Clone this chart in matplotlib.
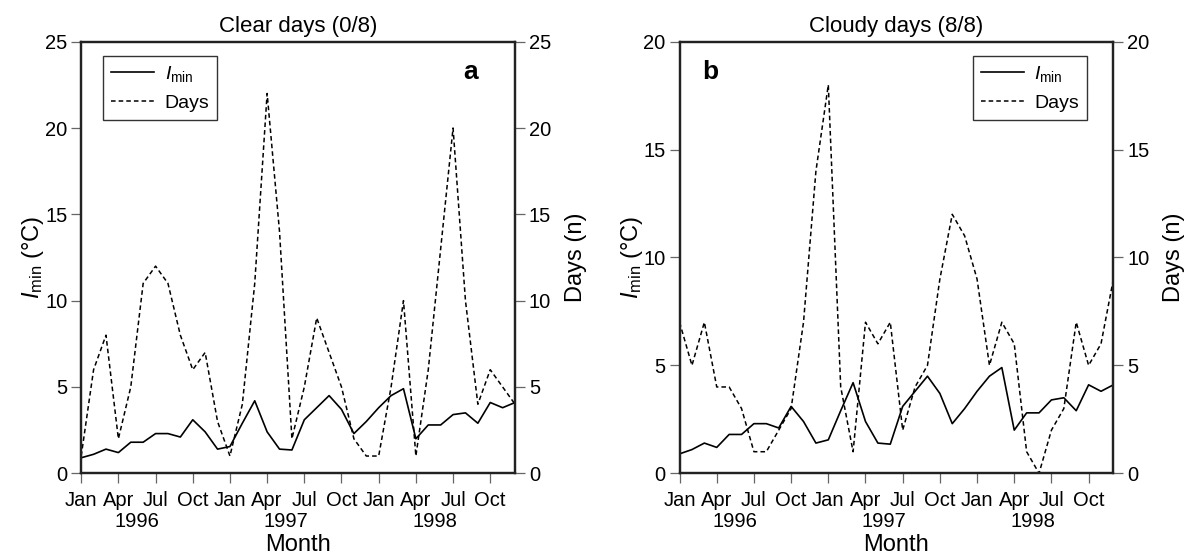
"""
Imin and number of days per month, clear vs cloudy days, 1996-1998.
"""

import matplotlib
matplotlib.use("Agg")
import matplotlib.pyplot as plt

plt.rcParams["font.family"] = ["Liberation Sans", "DejaVu Sans"]
plt.rcParams["mathtext.fontset"] = "custom"
plt.rcParams["mathtext.rm"] = "Liberation Sans"
plt.rcParams["mathtext.it"] = "Liberation Sans:italic"

# month index 0 = Jan 1996 ... 35 = Dec 1998
months = list(range(36))
month_ticks = list(range(0, 36, 3))
month_labels = ["Jan", "Apr", "Jul", "Oct"] * 3
years = ["1996", "1997", "1998"]

# I_min (deg C), same series in both panels
imin = [0.9, 1.1, 1.4, 1.2, 1.8, 1.8, 2.3, 2.3, 2.1, 3.1, 2.4, 1.4,
        1.55, 2.9, 4.2, 2.4, 1.4, 1.35, 3.1, 3.8, 4.5, 3.7, 2.3, 3.0,
        3.8, 4.5, 4.9, 2.0, 2.8, 2.8, 3.4, 3.5, 2.9, 4.1, 3.8, 4.1]

# number of clear days (0/8) per month
days_clear = [1, 6, 8, 2, 5, 11, 12, 11, 8, 6, 7, 3,
              1, 4, 11, 22, 14, 2, 5, 9, 7, 5, 2, 1,
              1, 5, 10, 1, 6, 13, 20, 10, 4, 6, 5, 4]

# number of cloudy days (8/8) per month
days_cloudy = [7, 5, 7, 4, 4, 3, 1, 1, 2, 3, 7, 14,
               18, 4, 1, 7, 6, 7, 2, 4, 5, 9, 12, 11,
               9, 5, 7, 6, 1, 0, 2, 3, 7, 5, 6, 9]

TICK_FS = 14.5
LABEL_FS = 17
TITLE_FS = 16


def draw_panel(ax, days, ymax, title, letter, leg_loc, leg_anchor, letter_x):
    ax2 = ax.twinx()
    l1, = ax.plot(months, imin, color="black", lw=1.2)
    l2, = ax2.plot(months, days, color="black", lw=1.1, ls=(0, (3, 2)))

    ax.set_xlim(0, 35)
    ax.set_ylim(0, ymax)
    ax2.set_ylim(0, ymax)
    ax.set_yticks(range(0, ymax + 1, 5))
    ax2.set_yticks(range(0, ymax + 1, 5))
    ax.set_xticks(month_ticks)
    ax.set_xticklabels(month_labels)

    for a in (ax, ax2):
        a.tick_params(labelsize=TICK_FS, length=7, width=0.9, color="#666666",
                      direction="out", pad=3)
        for s in a.spines.values():
            s.set_linewidth(1.6)
            s.set_color("#222222")
    ax.tick_params(axis="x", pad=6)

    for i, yr in enumerate(years):
        ax.text(12 * i + 4.5, -0.112, yr, transform=ax.get_xaxis_transform(),
                ha="center", va="center", fontsize=TICK_FS)

    ax.set_xlabel("Month", fontsize=LABEL_FS, labelpad=17)
    ax.set_ylabel(r"$I_{\rm min}$ (°C)", fontsize=LABEL_FS, labelpad=-1)
    ax2.set_ylabel("Days (n)", fontsize=LABEL_FS, labelpad=10)
    ax.set_title(title, fontsize=TITLE_FS, pad=7)

    leg = ax.legend([l1, l2], [r"$I_{\rm min}$", "Days"], loc=leg_loc,
                    bbox_to_anchor=leg_anchor, borderaxespad=0,
                    fontsize=14, frameon=True, fancybox=False,
                    edgecolor="black", handlelength=2.2, labelspacing=0.55,
                    borderpad=0.4, handletextpad=0.55)
    leg.get_frame().set_linewidth(1.0)
    leg.set_zorder(5)

    ax.text(letter_x, 0.930, letter, transform=ax.transAxes,
            fontsize=19, fontweight="bold", ha="center", va="center")


fig = plt.figure(figsize=(11.87, 5.58), dpi=100)
ax_a = fig.add_axes([0.0684, 0.1518, 0.3655, 0.7735])
ax_b = fig.add_axes([0.5725, 0.1518, 0.3655, 0.7735])

draw_panel(ax_a, days_clear, 25, "Clear days (0/8)", "a",
           "upper left", (0.051, 0.967), 0.898)
draw_panel(ax_b, days_cloudy, 20, "Cloudy days (8/8)", "b",
           "upper right", (0.939, 0.967), 0.070)

fig.savefig("out.png", dpi=100)
